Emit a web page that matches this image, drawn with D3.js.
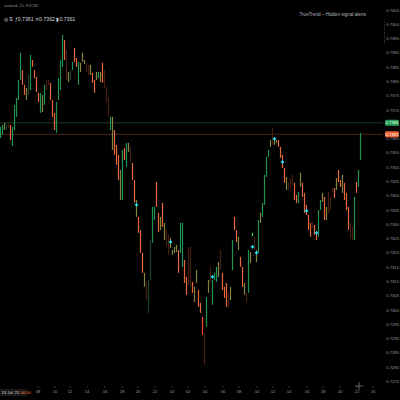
<!DOCTYPE html>
<html><head><meta charset="utf-8">
<script src="https://cdn.jsdelivr.net/npm/d3@7"></script>
<style>html,body{margin:0;padding:0;background:#000;overflow:hidden}svg{display:block}</style>
</head><body><svg id="c" width="400" height="400"></svg>
<script>
// ---- data (prices in points, 1 point = 0.00001) ----
const highs = [
73640,73647,73654,73650,73654,73647,73640,73717,73741,73804,
73899,73839,73787,73776,73822,73892,73874,73839,73815,73759,
73759,73752,73787,73804,73804,73794,73734,73689,73727,73811,
73874,73962,73944,73909,73832,73839,73867,73916,73881,73867,
73864,73899,73874,73864,73857,73857,73829,73804,73832,73832,
73832,73864,73839,73780,73745,73675,73675,73629,73577,73542,
73489,73559,73566,73584,73584,73570,73514,73454,73384,73325,
73279,73199,73129,73094,73104,73244,73360,73360,73447,73339,
73325,73374,73304,73279,73262,73251,73209,73220,73227,73209,
73304,73304,73174,73115,73220,73220,73097,73080,73139,73069,
73024,72975,72919,73045,73104,73150,73104,73129,73150,73167,
73209,73129,73080,73094,73059,73080,73244,73325,73279,73255,
73185,73150,73094,73059,73209,73202,73269,73255,73209,73314,
73339,73374,73472,73535,73559,73594,73636,73594,73594,73594,
73570,73542,73496,73465,73444,73461,73472,73444,73402,73412,
73479,73444,73409,73367,73332,73304,73307,73297,73269,73349,
73384,73409,73395,73360,73412,73395,73426,73426,73461,73489,
73454,73472,73444,73409,73360,73304,73290,73395,73447,73489,
73619];
const lows = [
73601,73612,73629,73629,73636,73594,73573,73629,73675,73734,
73804,73787,73752,73734,73752,73769,73850,73811,73762,73727,
73689,73692,73717,73769,73787,73734,73675,73629,73619,73734,
73769,73850,73874,73804,73797,73804,73839,73867,73850,73787,
73832,73867,73860,73832,73822,73822,73794,73759,73804,73811,
73797,73794,73776,73724,73675,73629,73559,73542,73507,73454,
73384,73384,73524,73500,73552,73517,73454,73374,73325,73269,
73199,73129,73080,73034,72989,73104,73234,73314,73360,73272,
73279,73290,73244,73220,73192,73216,73192,73199,73202,73129,
73199,73150,73094,73052,73087,73080,73059,73027,73094,73010,
72989,72912,72807,72940,73059,73094,73017,73104,73097,73115,
73139,73069,73041,73010,73006,73034,73139,73279,73237,73209,
73150,73080,73052,73027,73059,73164,73258,73209,73167,73199,
73304,73325,73367,73465,73535,73570,73577,73577,73584,73570,
73531,73496,73444,73419,73419,73426,73437,73384,73374,73374,
73430,73395,73339,73332,73279,73255,73286,73262,73244,73255,
73349,73377,73314,73314,73339,73349,73412,73391,73419,73447,
73430,73409,73384,73349,73279,73251,73244,73244,73409,73430,
73524];
// trend state per bar: G up, O down, L neutral, D weak down, E weak up, R strong down, B strong up
const trend = ("GGLEDOGGGG"+"GOOLEGOOOO"+"GLGDDOOOGG"+"GGODLEGOOG"+"LLLDDLOOLG"+
  "LODDDGLOOO"+"LGOGLDOOLO"+"OOLDEEGGOO"+"LOLDDLLLLO"+"GGOODDOLLO"+
  "ORDGLDGGGL"+"DOOODLGOOL"+"OOLDGLBDLG"+"LGGGGLDLLO"+"OOOLDDDOOG"+
  "LOOOOODOOG"+"GLOLDDDOLO"+"OLOOODDGOG"+"G").split("");
const signalIdx   = [68, 85, 106, 126, 128, 137, 141, 153, 158];
const signalPrice = [73367, 73237, 73115, 73220, 73199, 73598, 73517, 73346, 73269];
const bidPrice = 73654, lastPrice = 73614;
const yTicks = d3.range(72750, 74051, 50);
const xTickIdx = [18.5,27,34.5,43,52,60.5,68.5,77,85.5,93.5,102,111,119,128,136,144,153,161,169.5,178,186];
const xTickLabels = ["08","10","12","14","16","18","20","22","14","02","04","06","08","10","12","14","16","18","20","22","15"];

// ---- drawing ----
const svg = d3.select("#c");
svg.append("rect").attr("width",400).attr("height",400).attr("fill","#000");
const plotR = 383, plotB = 386;
const x = d3.scaleLinear().domain([0,191.5]).range([0.5,383.5]);
const y = d3.scaleLinear().domain([74084,72684]).range([0,400]);
const col = {G:"#1f9553",O:"#e4683a",L:"#85843f",D:"#461e12",E:"#19432a",R:"#f5471f",B:"#30d855"};
const font = "Liberation Sans, Arial, sans-serif";

svg.append("clipPath").attr("id","pc").append("rect").attr("width",plotR).attr("height",plotB);
const g = svg.append("g").attr("clip-path","url(#pc)");

// price lines
g.append("line").attr("x1",0).attr("x2",plotR).attr("y1",y(bidPrice)).attr("y2",y(bidPrice))
  .attr("stroke","#1a4f30").attr("stroke-width",0.8);
g.append("line").attr("x1",0).attr("x2",plotR).attr("y1",y(lastPrice)).attr("y2",y(lastPrice))
  .attr("stroke","#62291b").attr("stroke-width",0.8);

// bars
g.selectAll("rect.bar").data(highs.map((h,i)=>({i,h,l:lows[i],s:trend[i]})))
  .enter().append("rect").attr("class","bar")
  .attr("x",d=>x(d.i)-0.6).attr("width",1.2)
  .attr("y",d=>y(d.h)).attr("height",d=>Math.max(1,y(d.l)-y(d.h)))
  .attr("fill",d=>col[d.s]);

// signal markers
const sig = g.selectAll("g.sig").data(signalIdx.map((v,i)=>({i:v,p:signalPrice[i]})))
  .enter().append("g").attr("transform",d=>`translate(${x(d.i)},${y(d.p)})`);
sig.append("path").attr("d","M-1.8,0H1.8M0,-1.8V1.8").attr("stroke","#1fd8ec").attr("stroke-width",1);
sig.append("rect").attr("x",-1).attr("y",-1).attr("width",2).attr("height",2).attr("fill","#2ee6f5");

// y axis
const ya = svg.append("g").attr("transform",`translate(${plotR},0)`)
  .call(d3.axisRight(y).tickValues(yTicks).tickSize(0).tickFormat(v=>(v/1e5).toFixed(4)));
ya.select(".domain").remove();
ya.selectAll("text").attr("x",16).attr("text-anchor","end").attr("fill","#9598a1")
  .style("font-size","4.2px").style("font-family",font);

// price tags
function tag(p,fill,txt){
  const yy=y(p);
  svg.append("rect").attr("x",plotR+2).attr("y",yy-3).attr("width",14).attr("height",6).attr("rx",1.5).attr("fill",fill);
  svg.append("text").attr("x",plotR+9).attr("y",yy+1.5).attr("text-anchor","middle").attr("fill","#fff")
    .style("font-size","4.2px").style("font-family",font).text(txt);
}
tag(bidPrice,"#1f9a4f",(bidPrice/1e5).toFixed(4));
tag(lastPrice,"#f0622e",(lastPrice/1e5).toFixed(4));

// dotted scale marker
svg.append("line").attr("x1",plotR+1.5).attr("x2",plotR+1.5).attr("y1",22).attr("y2",44)
  .attr("stroke","#777").attr("stroke-width",0.6).attr("stroke-dasharray","0.8,1.2");

// x axis
const xa = svg.append("g").attr("transform",`translate(0,${plotB})`)
  .call(d3.axisBottom(x).tickValues(xTickIdx).tickSize(2).tickPadding(2).tickFormat((d,i)=>xTickLabels[i]));
xa.select(".domain").remove();
xa.selectAll("line").attr("stroke","#555").attr("stroke-width",0.6);
xa.selectAll("text").attr("fill","#9598a1").style("font-size","4.2px").style("font-family",font);

// date box bottom-left
svg.append("rect").attr("x",0).attr("y",389).attr("width",27).attr("height",7).attr("fill","#1a1a1a");
const dt = svg.append("text").attr("x",1.5).attr("y",394.2).style("font-size","4.2px").style("font-family",font);
dt.append("tspan").attr("fill","#ddd").text("13 Jul '21 ");
dt.append("tspan").attr("fill","#f0713a").text("06:00");

// crosshair cursor
svg.append("path").attr("d","M355,386H363M359,382V390").attr("stroke","#bbb").attr("stroke-width",0.5);

// header texts
svg.append("text").attr("x",4).attr("y",7).attr("fill","#8a8d96").style("font-size","4px").style("font-family",font)
  .text("audusd, 15, FXCM");
svg.append("text").attr("x",4).attr("y",21).attr("fill","#d1d4dc").style("font-size","5.2px").style("font-family",font)
  .text("◎ ⇅ ƒ0.7361  ✕0.7362  ▮0.7361");
svg.append("text").attr("x",366).attr("y",16).attr("text-anchor","end").attr("fill","#b2b5be")
  .style("font-size","4.6px").style("font-family",font).text("TrueTrend – Hidden signal alerts");
</script></body></html>
